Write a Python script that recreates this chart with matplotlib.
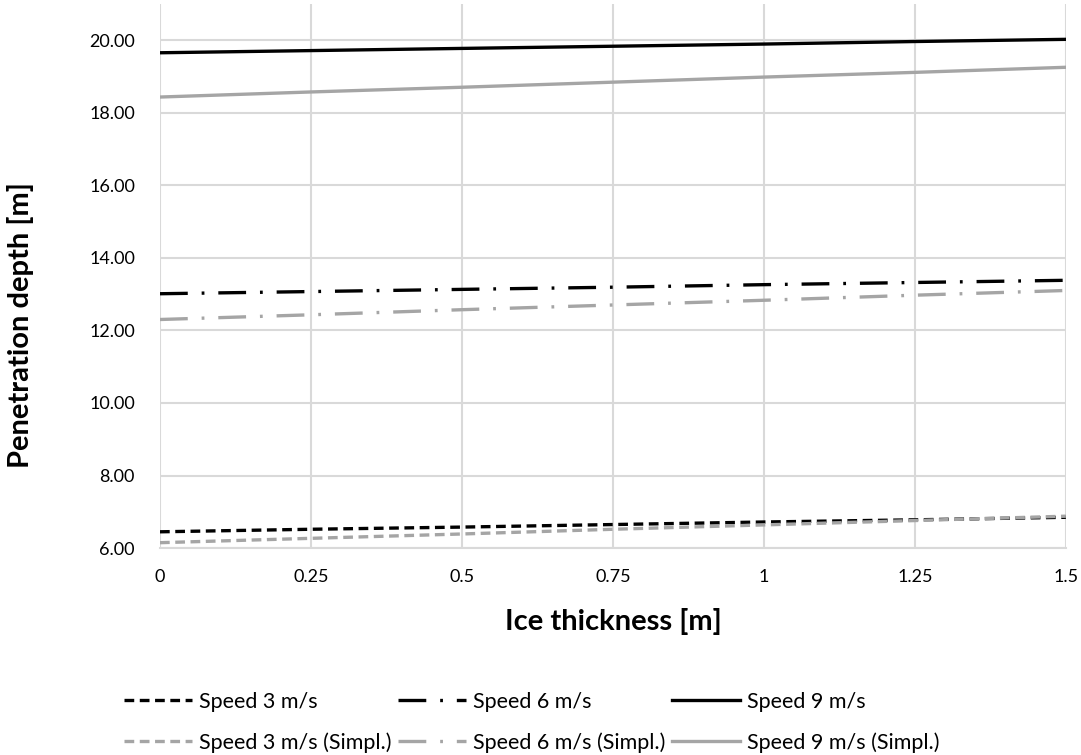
import numpy as np
import matplotlib.pyplot as plt

plt.rcParams["font.family"] = ["Lato", "DejaVu Sans"]
plt.rcParams["lines.scale_dashes"] = False

# ice thickness [m]
thickness = [0, 0.25, 0.5, 0.75, 1.0, 1.25, 1.5]

# penetration depth [m]
speed3 = [6.45, 6.52, 6.58, 6.65, 6.72, 6.78, 6.85]
speed6 = [13.01, 13.07, 13.13, 13.19, 13.26, 13.32, 13.38]
speed9 = [19.65, 19.71, 19.77, 19.83, 19.89, 19.96, 20.02]
speed3_simpl = [6.15, 6.27, 6.39, 6.52, 6.64, 6.76, 6.88]
speed6_simpl = [12.30, 12.43, 12.57, 12.70, 12.83, 12.97, 13.10]
speed9_simpl = [18.43, 18.57, 18.70, 18.84, 18.98, 19.11, 19.25]

xticks = [0, 0.25, 0.5, 0.75, 1, 1.25, 1.5]
xticklabels = ["0", "0.25", "0.5", "0.75", "1", "1.25", "1.5"]
yticks = [6, 8, 10, 12, 14, 16, 18, 20]

black = "#000000"
gray = "#A5A5A5"
short_dash = (0, (7, 4))
dash_dot = (0, (20, 10, 2, 10))

fig = plt.figure(figsize=(10.81, 7.55), dpi=100)
ax = fig.add_axes([0.148, 0.274, 0.838, 0.721])

lw = 2.4
l3, = ax.plot(thickness, speed3, color=black, lw=lw, linestyle=short_dash, label="Speed 3 m/s")
l3s, = ax.plot(thickness, speed3_simpl, color=gray, lw=lw, linestyle=short_dash, label="Speed 3 m/s (Simpl.)")
l6, = ax.plot(thickness, speed6, color=black, lw=lw, linestyle=dash_dot, label="Speed 6 m/s")
l6s, = ax.plot(thickness, speed6_simpl, color=gray, lw=lw, linestyle=dash_dot, label="Speed 6 m/s (Simpl.)")
l9, = ax.plot(thickness, speed9, color=black, lw=lw, label="Speed 9 m/s")
l9s, = ax.plot(thickness, speed9_simpl, color=gray, lw=lw, label="Speed 9 m/s (Simpl.)")

ax.set_xlim(0, 1.5)
ax.set_ylim(6, 21)
ax.set_xticks(xticks)
ax.set_xticklabels(xticklabels)
ax.set_yticks(yticks)
ax.set_yticklabels([f"{v:.2f}" for v in yticks])
ax.grid(True, color="#D9D9D9", lw=1.5)
ax.set_axisbelow(True)
for s in ["top", "right", "left"]:
    ax.spines[s].set_visible(False)
ax.spines["bottom"].set_color("#D9D9D9")
ax.spines["bottom"].set_linewidth(1.5)
ax.tick_params(length=0, labelsize=13, colors="#000000")
ax.tick_params(axis="x", pad=15)
ax.tick_params(axis="y", pad=18)

# axis titles
fig.text(0.567, 0.177, "Ice thickness [m]", fontsize=21, fontweight="bold",
         ha="center", va="center")
fig.text(0.019, 0.570, "Penetration depth [m]", fontsize=21, fontweight="bold",
         ha="center", va="center", rotation=90)

fig.legend(handles=[l3, l3s, l6, l6s, l9, l9s], ncol=3, frameon=False,
           loc="lower left", bbox_to_anchor=(0.113, 0.0), fontsize=15.5,
           handlelength=3.15, handletextpad=0.33, columnspacing=0.3,
           labelspacing=0.95, borderpad=0.1, borderaxespad=0)

fig.savefig("out.png", dpi=100)
